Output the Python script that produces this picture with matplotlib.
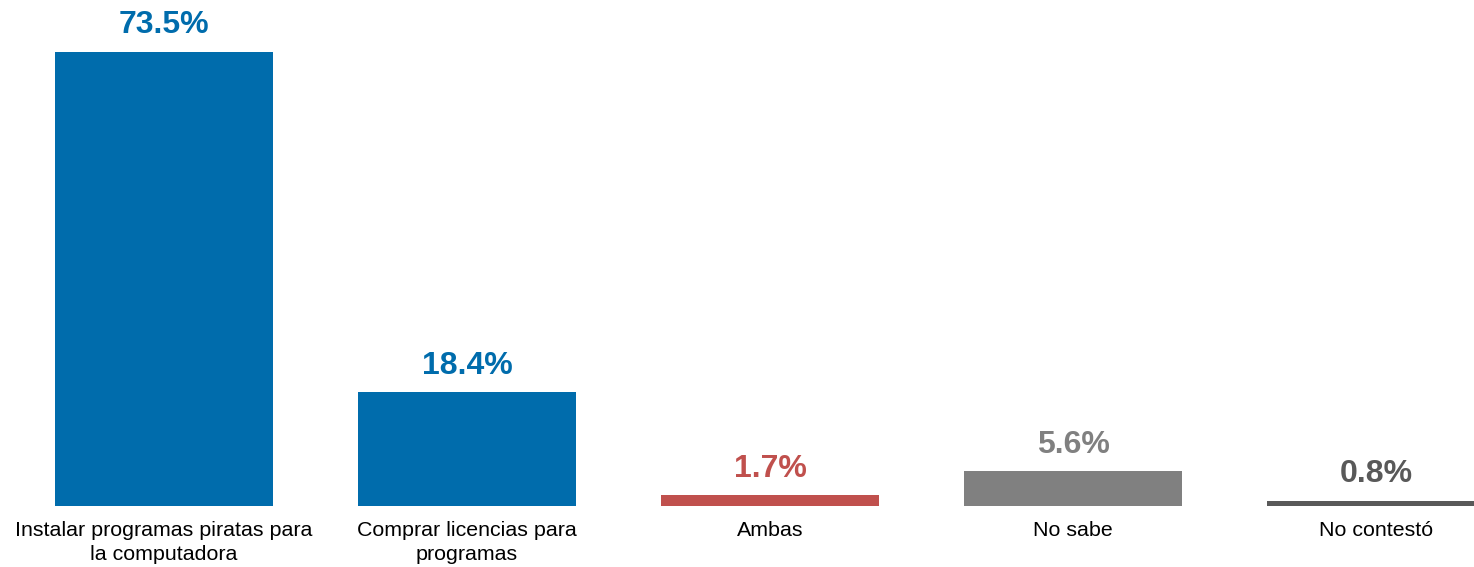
import matplotlib
matplotlib.use("Agg")
import matplotlib.pyplot as plt

categories = ["Instalar programas piratas para\nla computadora",
              "Comprar licencias para\nprogramas",
              "Ambas", "No sabe", "No contestó"]
values = [73.5, 18.4, 1.7, 5.6, 0.8]
value_labels = ["73.5%", "18.4%", "1.7%", "5.6%", "0.8%"]
colors = ["#006CAC", "#006CAC", "#C0504D", "#808080", "#595959"]

plt.rcParams['font.family'] = ['Liberation Sans', 'DejaVu Sans']

fig = plt.figure(figsize=(14.74, 5.67), dpi=100)
ax = fig.add_axes([0, 61/567, 1, 506/567])
x = list(range(len(values)))
ax.bar(x, values, width=0.72, color=colors)
for xi, v, lab, c in zip(x, values, value_labels, colors):
    ax.annotate(lab, (xi, v), xytext=(0, 13.5), textcoords="offset points",
                ha="center", va="baseline", fontsize=23, fontweight="bold", color=c)
ax.set_xlim(-164/303, (1474-164)/303)
ax.set_ylim(0, 506/6.177)
ax.set_xticks(x)
ax.set_xticklabels(categories, fontsize=15.4, color="black", linespacing=1.3)
ax.tick_params(axis="x", length=0, pad=11)
ax.set_yticks([])
for s in ax.spines.values():
    s.set_visible(False)
ax.patch.set_alpha(0)
fig.savefig("out.png", dpi=100)
